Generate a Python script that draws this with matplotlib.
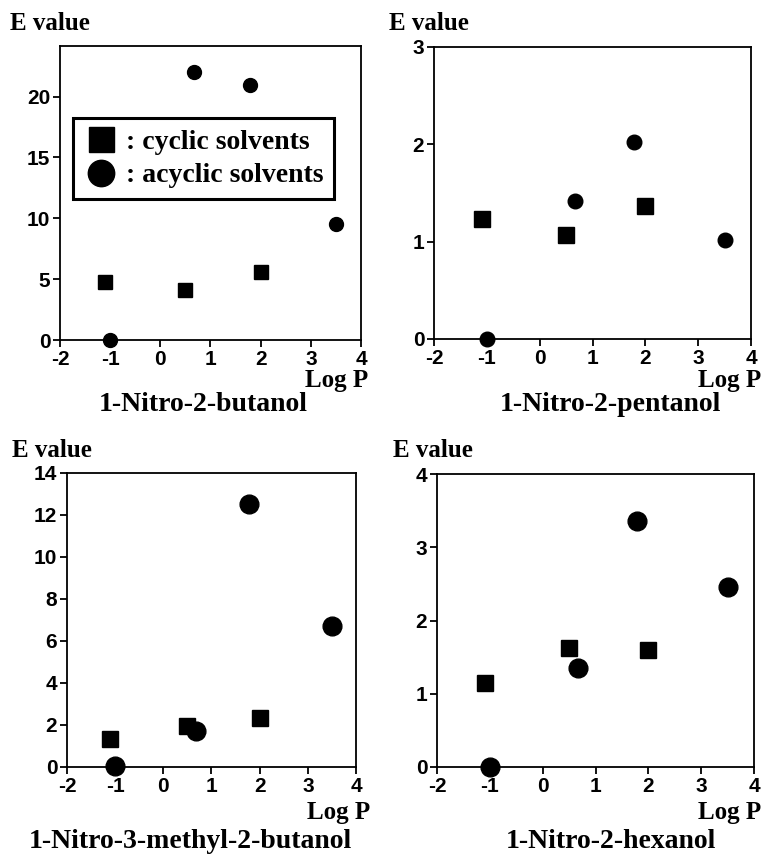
import matplotlib
matplotlib.use('Agg')
import matplotlib.pyplot as plt
from matplotlib.lines import Line2D

plt.rcParams['axes.unicode_minus'] = False

W, H = 762, 860

# shared Log P positions
cyc_x = [-1.1, 0.5, 2.0]
acyc_x = [-1.0, 0.67, 1.78, 3.5]

titles = ["1-Nitro-2-butanol", "1-Nitro-2-pentanol",
          "1-Nitro-3-methyl-2-butanol", "1-Nitro-2-hexanol"]

cyc_butanol = [4.8, 4.1, 5.6]
acyc_butanol = [0.0, 22.0, 20.95, 9.55]

cyc_pentanol = [1.23, 1.07, 1.37]
acyc_pentanol = [0.0, 1.42, 2.02, 1.02]

cyc_methylbutanol = [1.33, 1.93, 2.35]
acyc_methylbutanol = [0.07, 1.7, 12.52, 6.72]

cyc_hexanol = [1.14, 1.62, 1.6]
acyc_hexanol = [0.0, 1.35, 3.36, 2.46]

cyc_vals = [cyc_butanol, cyc_pentanol, cyc_methylbutanol, cyc_hexanol]
acyc_vals = [acyc_butanol, acyc_pentanol, acyc_methylbutanol, acyc_hexanol]
ylims = [24.15, 3, 14, 4]
yticks = [range(0, 21, 5), range(0, 4), range(0, 15, 2), range(0, 5)]

# marker sizes differ a little between the panels in the original
sq_ms = [10.5, 11, 12, 12]
ci_ms = [10, 10.5, 13.5, 13.5]

# axes boxes in pixels: left, top, right, bottom
boxes = [(60, 46, 361, 340), (434, 47, 751, 339),
         (67, 473, 356, 767), (437, 474, 754, 767)]
evalue_pos = [(10, 24), (389, 24), (12, 450), (393, 450)]
logp_pos = [(368, 381), (761, 381), (370, 813), (761, 813)]
title_pos = [(203, 404), (610, 404), (190, 842), (611, 842)]

serif = {'family': 'Liberation Serif', 'weight': 'bold'}

fig = plt.figure(figsize=(W / 100, H / 100), dpi=100)

for i in range(4):
    l, t, r, b = boxes[i]
    ax = fig.add_axes([l / W, 1 - b / H, (r - l) / W, (b - t) / H])
    ax.plot(cyc_x, cyc_vals[i], 's', color='black', markersize=sq_ms[i], clip_on=False)
    ax.plot(acyc_x, acyc_vals[i], 'o', color='black', markersize=ci_ms[i], clip_on=False)
    ax.set_xlim(-2, 4)
    ax.set_ylim(0, ylims[i])
    ax.set_xticks(range(-2, 5))
    ax.set_yticks(list(yticks[i]))
    for s in ax.spines.values():
        s.set_linewidth(1.3)
    ax.tick_params(direction='out', length=5, width=1.3, pad=2,
                   labelsize=15)
    for lab in ax.get_xticklabels() + ax.get_yticklabels():
        lab.set_fontfamily('Liberation Sans')
        lab.set_fontweight('bold')

    fig.text(evalue_pos[i][0] / W, 1 - evalue_pos[i][1] / H, "E value",
             fontsize=18, ha='left', va='center', **serif)
    fig.text(logp_pos[i][0] / W, 1 - logp_pos[i][1] / H, "Log P",
             fontsize=18, ha='right', va='center', **serif)
    fig.text(title_pos[i][0] / W, 1 - title_pos[i][1] / H, titles[i],
             fontsize=20, ha='center', va='center', **serif)

    if i == 0:
        handles = [Line2D([], [], ls='none', marker='s', color='black', markersize=18),
                   Line2D([], [], ls='none', marker='o', color='black', markersize=19)]
        leg = ax.legend(handles, [": cyclic solvents", ": acyclic solvents"],
                        loc='upper left', bbox_to_anchor=(73 / W, 1 - 118 / H),
                        bbox_transform=fig.transFigure, borderaxespad=0,
                        fancybox=False, edgecolor='black', framealpha=1,
                        handlelength=1.2, handletextpad=0.3, labelspacing=0.3,
                        borderpad=0.4,
                        prop={'family': 'Liberation Serif', 'weight': 'bold', 'size': 20})
        leg.get_frame().set_linewidth(2.2)

fig.savefig('out.png', dpi=100)
